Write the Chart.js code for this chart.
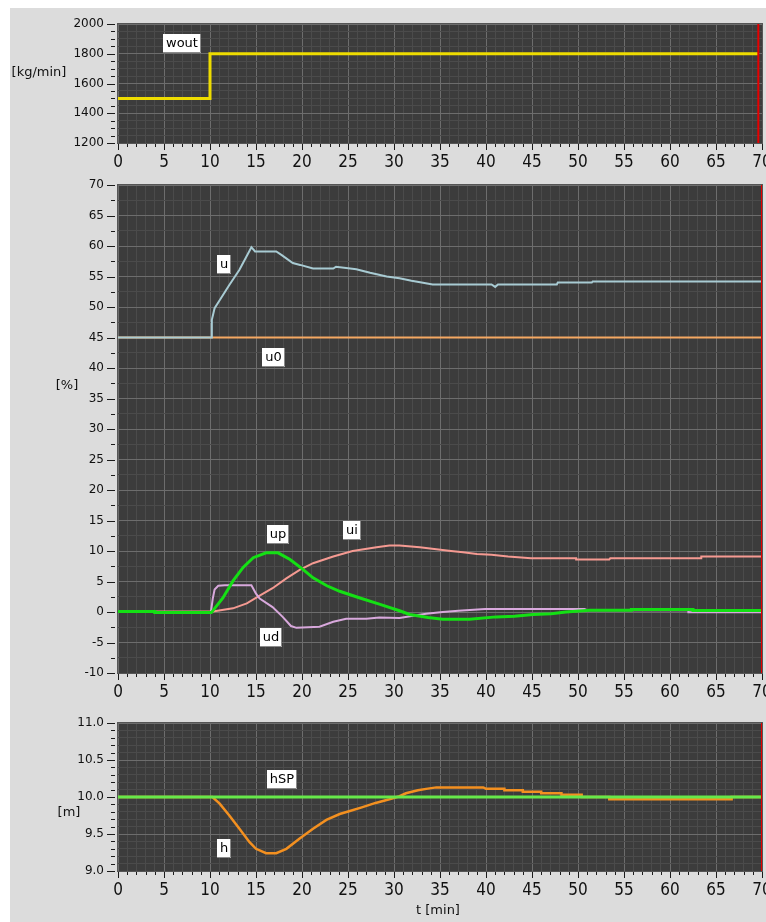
<!DOCTYPE html>
<html>
<head>
<meta charset="utf-8">
<title>Level control – step in outflow</title>
<script src="https://cdn.jsdelivr.net/npm/chart.js@4.4.1/dist/chart.umd.min.js"></script>
<style>
  html, body { margin: 0; padding: 0; background: #ffffff; width: 766px; height: 922px; overflow: hidden; }
  #frame { position: absolute; left: 10px; top: 8px; width: 756px; height: 914px; background: #dcdcdc; }
  canvas { position: absolute; left: 0; }
</style>
</head>
<body>
<div id="frame"></div>
<canvas id="flowChart" width="766" height="175" style="top:0;width:766px;height:175px"></canvas>
<canvas id="controlChart" width="766" height="530" style="top:175px;width:766px;height:530px"></canvas>
<canvas id="levelChart" width="766" height="217" style="top:705px;width:766px;height:217px"></canvas>
<script>
// ---------- tick labels ----------
const timeTickValues = [0, 5, 10, 15, 20, 25, 30, 35, 40, 45, 50, 55, 60, 65, 70];
const timeTickLabels = ['0', '5', '10', '15', '20', '25', '30', '35', '40', '45', '50', '55', '60', '65', '70'];
const flowTickValues = [1200, 1400, 1600, 1800, 2000];
const flowTickLabels = ['1200', '1400', '1600', '1800', '2000'];
const pctTickValues = [-10, -5, 0, 5, 10, 15, 20, 25, 30, 35, 40, 45, 50, 55, 60, 65, 70];
const pctTickLabels = ['-10', '-5', '0', '5', '10', '15', '20', '25', '30', '35', '40', '45', '50', '55', '60', '65', '70'];
const levelTickValues = [9.0, 9.5, 10.0, 10.5, 11.0];
const levelTickLabels = ['9.0', '9.5', '10.0', '10.5', '11.0'];

// ---------- outflow wout [kg/min] ----------
const woutT = [0, 10, 10, 69.6];
const woutV = [1500, 1500, 1800, 1800];

// ---------- controller output and its parts [%] ----------
const uT = [0, 10.2, 10.2, 10.5, 11.05, 12.1, 13.2, 14.5, 14.9, 17.2, 17.8, 19.0, 19.8, 21.2, 23.4, 23.7, 25.9, 27.4, 29.2, 30.6, 31.9, 33.0, 34.2, 40.6, 41.0, 41.3, 47.7, 47.8, 51.5, 51.6, 70];
const uV = [45, 45, 47.9, 49.8, 51.1, 53.6, 56.1, 59.8, 59.1, 59.1, 58.5, 57.2, 56.9, 56.3, 56.3, 56.6, 56.2, 55.6, 55.0, 54.7, 54.3, 54.0, 53.7, 53.7, 53.3, 53.7, 53.7, 54.0, 54.0, 54.2, 54.2];

const u0T = [0, 70];
const u0V = [45, 45];

const upT = [0, 4, 4, 10.15, 11.4, 12.5, 13.6, 14.7, 16.1, 17.4, 18.7, 20.1, 21.2, 22.7, 24.1, 26.3, 28.4, 30.6, 31.7, 33.7, 35.3, 38.2, 41.1, 43.1, 45.1, 47.1, 48.7, 51.3, 55.8, 55.8, 62.5, 62.5, 70];
const upV = [0.1, 0.1, -0.1, -0.1, 2.3, 5.1, 7.3, 8.9, 9.7, 9.7, 8.6, 7.0, 5.6, 4.3, 3.4, 2.3, 1.3, 0.2, -0.4, -0.9, -1.2, -1.2, -0.8, -0.7, -0.4, -0.3, 0, 0.3, 0.3, 0.4, 0.4, 0.25, 0.25];

const uiT = [0, 10.3, 12.5, 14.0, 15.4, 16.8, 18.3, 19.75, 21.2, 23.4, 25.5, 28.1, 29.5, 30.6, 32.8, 34.6, 36.2, 37.5, 39.0, 40.6, 42.4, 44.9, 49.8, 49.8, 53.4, 53.5, 63.4, 63.4, 70];
const uiV = [0.1, 0.1, 0.6, 1.4, 2.7, 3.9, 5.5, 6.9, 8.0, 9.1, 10.0, 10.6, 10.9, 10.9, 10.6, 10.3, 10.0, 9.8, 9.5, 9.4, 9.1, 8.8, 8.8, 8.6, 8.6, 8.8, 8.8, 9.1, 9.1];

const udT = [0, 10.1, 10.3, 10.5, 10.9, 11.6, 14.5, 15.0, 15.4, 16.8, 17.9, 18.8, 19.4, 21.9, 23.4, 24.8, 27.0, 28.4, 30.6, 32.1, 33.5, 35.3, 37.0, 39.9, 50.7, 51.0, 62.0, 62.0, 70];
const udV = [0, 0, 2.2, 3.7, 4.3, 4.4, 4.4, 3.0, 2.2, 0.8, -0.8, -2.3, -2.6, -2.4, -1.6, -1.1, -1.1, -0.9, -1.0, -0.6, -0.3, 0, 0.2, 0.5, 0.5, 0.3, 0.3, -0.05, -0.05];

// ---------- level h and setpoint hSP [m] ----------
const hT = [0, 10.26, 11.05, 12.1, 13.2, 14.3, 15.0, 16.1, 17.2, 18.3, 19.75, 21.2, 22.65, 24.1, 25.2, 26.5, 28.0, 29.5, 30.6, 31.3, 32.6, 33.5, 34.6, 39.7, 40.0, 42.0, 42.0, 44.0, 44.0, 46.0, 46.0, 48.2, 48.2, 50.4, 50.4, 53.4, 53.4, 66.7, 66.7, 70];
const hV = [10, 10, 9.91, 9.75, 9.57, 9.39, 9.30, 9.24, 9.24, 9.30, 9.44, 9.57, 9.69, 9.77, 9.81, 9.86, 9.92, 9.97, 10.01, 10.05, 10.09, 10.11, 10.13, 10.13, 10.11, 10.11, 10.09, 10.09, 10.07, 10.07, 10.05, 10.05, 10.03, 10.03, 10.0, 10.0, 9.97, 9.97, 10.0, 10.0];

const hspT = [0, 70];
const hspV = [10, 10];

// ---------- time cursor ----------
const cursorFlowT = [69.6, 69.6];
const cursorCtrlT = [70, 70];
const cursorLevelT = [70, 70];

// ---------- series tags ----------
const flowTagText = ['wout'];
const flowTagT = [7.0];
const flowTagV = [1868];
const ctrlTagText = ['u', 'u0', 'up', 'ui', 'ud'];
const ctrlTagT = [11.5, 16.9, 17.4, 25.4, 16.6];
const ctrlTagV = [56.9, 41.7, 12.7, 13.4, -4.1];
const levelTagText = ['hSP', 'h'];
const levelTagT = [17.8, 11.5];
const levelTagV = [10.23, 9.31];

// ---------- styling ----------
const PLOT_BG = '#3c3c3c';
const GRID_MINOR = '#4b4b4b';
const GRID_MAJOR = '#6d6d6d';
const TEXT = '#111111';
const FONT_FAMILY = "'DejaVu Sans', 'Liberation Sans', Arial, sans-serif";
const NARROW_FAMILY = "'Liberation Sans Narrow', 'DejaVu Sans Condensed', 'Liberation Sans', sans-serif";
const Y_AXIS_WIDTH = 118;

function isIn(list, v) { return list.some(m => Math.abs(m - v) < 1e-7); }
function labelFor(values, labels, v) {
  const i = values.findIndex(m => Math.abs(m - v) < 1e-7);
  return i < 0 ? '' : labels[i];
}
function series(T, V, color, width) {
  return {
    data: T.map((t, i) => ({ x: t, y: V[i] })),
    borderColor: color,
    borderWidth: width,
    pointRadius: 0,
    pointHoverRadius: 0,
    fill: false,
    tension: 0
  };
}

// Plot background, frame, tick marks, axis titles and series tags
const decoPlugin = {
  id: 'deco',
  beforeDraw(chart) {
    const a = chart.chartArea, ctx = chart.ctx;
    ctx.save();
    ctx.fillStyle = PLOT_BG;
    ctx.fillRect(a.left, a.top, a.right - a.left, a.bottom - a.top);
    ctx.restore();
  },
  afterDraw(chart, args, opts) {
    const a = chart.chartArea, ctx = chart.ctx;
    const xs = chart.scales.x, ys = chart.scales.y;
    ctx.save();
    ctx.lineWidth = 1;
    ctx.strokeStyle = '#555555';
    ctx.strokeRect(Math.round(a.left) - 0.5, Math.round(a.top) - 0.5,
                   Math.round(a.right - a.left) + 1, Math.round(a.bottom - a.top) + 1);

    ctx.strokeStyle = '#1a1a1a';
    ctx.beginPath();
    xs.ticks.forEach(t => {
      const px = Math.round(xs.getPixelForValue(t.value)) + 0.5;
      const len = isIn(opts.xMajor, t.value) ? 6 : 3;
      ctx.moveTo(px, Math.round(a.bottom) + 1);
      ctx.lineTo(px, Math.round(a.bottom) + 1 + len);
    });
    ys.ticks.forEach(t => {
      const py = Math.round(ys.getPixelForValue(t.value)) + 0.5;
      const len = isIn(opts.yMajor, t.value) ? 8 : 4;
      ctx.moveTo(a.left - 3, py);
      ctx.lineTo(a.left - 3 - len, py);
    });
    ctx.stroke();

    ctx.fillStyle = TEXT;
    ctx.font = '13px ' + FONT_FAMILY;
    ctx.textAlign = 'center';
    ctx.textBaseline = 'middle';
    opts.titles.forEach(t => ctx.fillText(t.text, t.x, t.y));

    ctx.font = '13px ' + FONT_FAMILY;
    opts.tagText.forEach((txt, i) => {
      const cx = xs.getPixelForValue(opts.tagT[i]);
      const cy = ys.getPixelForValue(opts.tagV[i]);
      const w = Math.round(ctx.measureText(txt).width) + 6, h = 19;
      const x0 = Math.round(cx - w / 2), y0 = Math.round(cy - h / 2);
      ctx.fillStyle = '#ffffff';
      ctx.fillRect(x0, y0, w, h);
      ctx.strokeStyle = '#8a8a8a';
      ctx.beginPath();
      ctx.moveTo(x0 + w - 0.5, y0);
      ctx.lineTo(x0 + w - 0.5, y0 + h - 0.5);
      ctx.lineTo(x0, y0 + h - 0.5);
      ctx.stroke();
      ctx.fillStyle = '#000000';
      ctx.fillText(txt, x0 + w / 2, y0 + h / 2 + 0.5);
    });
    ctx.restore();
  }
};

function makePanel(id, p) {
  return new Chart(document.getElementById(id), {
    type: 'line',
    data: { datasets: p.datasets },
    options: {
      responsive: false,
      animation: false,
      events: [],
      layout: { padding: { top: p.padTop, right: 4, left: 0, bottom: 0 } },
      plugins: {
        legend: { display: false },
        tooltip: { enabled: false },
        deco: {
          xMajor: timeTickValues, yMajor: p.yValues,
          titles: p.titles, tagText: p.tagText, tagT: p.tagT, tagV: p.tagV
        }
      },
      scales: {
        x: {
          type: 'linear', min: 0, max: 70,
          ticks: {
            stepSize: 1, autoSkip: false, maxRotation: 0, minRotation: 0, padding: 9,
            color: TEXT, font: { family: NARROW_FAMILY, size: 17 },
            callback: v => labelFor(timeTickValues, timeTickLabels, v)
          },
          grid: {
            drawTicks: false, lineWidth: 1,
            color: c => isIn(timeTickValues, c.tick.value) ? GRID_MAJOR : GRID_MINOR
          },
          border: { display: false },
          afterFit: s => { s.height = p.xAxisH; s.paddingLeft = 0; s.paddingRight = 0; }
        },
        y: {
          type: 'linear', min: p.yMin, max: p.yMax,
          ticks: {
            stepSize: p.yStep, autoSkip: false, padding: 14,
            color: TEXT, font: { family: FONT_FAMILY, size: 12 },
            callback: v => labelFor(p.yValues, p.yLabels, v)
          },
          grid: {
            drawTicks: false, lineWidth: 1,
            color: c => isIn(p.yValues, c.tick.value) ? GRID_MAJOR : GRID_MINOR
          },
          border: { display: false },
          afterFit: s => { s.width = Y_AXIS_WIDTH; s.paddingTop = 0; s.paddingBottom = 0; }
        }
      }
    },
    plugins: [decoPlugin]
  });
}

makePanel('flowChart', {
  padTop: 24, xAxisH: 32,
  yMin: 1200, yMax: 2000, yStep: 50, yValues: flowTickValues, yLabels: flowTickLabels,
  titles: [{ text: '[kg/min]', x: 39, y: 73 }],
  tagText: flowTagText, tagT: flowTagT, tagV: flowTagV,
  datasets: [
    series(cursorFlowT, [1200, 2000], '#e60000', 2),
    series(woutT, woutV, '#eedc00', 3)
  ]
});

makePanel('controlChart', {
  padTop: 10, xAxisH: 32,
  yMin: -10, yMax: 70, yStep: 2.5, yValues: pctTickValues, yLabels: pctTickLabels,
  titles: [{ text: '[%]', x: 67, y: 211 }],
  tagText: ctrlTagText, tagT: ctrlTagT, tagV: ctrlTagV,
  datasets: [
    series(cursorCtrlT, [-10, 70], '#e60000', 2),
    series(upT, upV, '#14e014', 3),
    series(udT, udV, '#d8a8dc', 2),
    series(uiT, uiV, '#f59a92', 2),
    series(uT, uV, '#a8cbd3', 2),
    series(u0T, u0V, '#f5a862', 2)
  ]
});

makePanel('levelChart', {
  padTop: 18, xAxisH: 51,
  yMin: 9, yMax: 11, yStep: 0.1, yValues: levelTickValues, yLabels: levelTickLabels,
  titles: [{ text: '[m]', x: 69, y: 108 }, { text: 't [min]', x: 438, y: 206 }],
  tagText: levelTagText, tagT: levelTagT, tagV: levelTagV,
  datasets: [
    series(cursorLevelT, [9, 11], '#e60000', 2),
    series(hspT, hspV, '#66e84a', 3),
    series(hT, hV, '#f39020', 2.5)
  ]
});
</script>
</body>
</html>
